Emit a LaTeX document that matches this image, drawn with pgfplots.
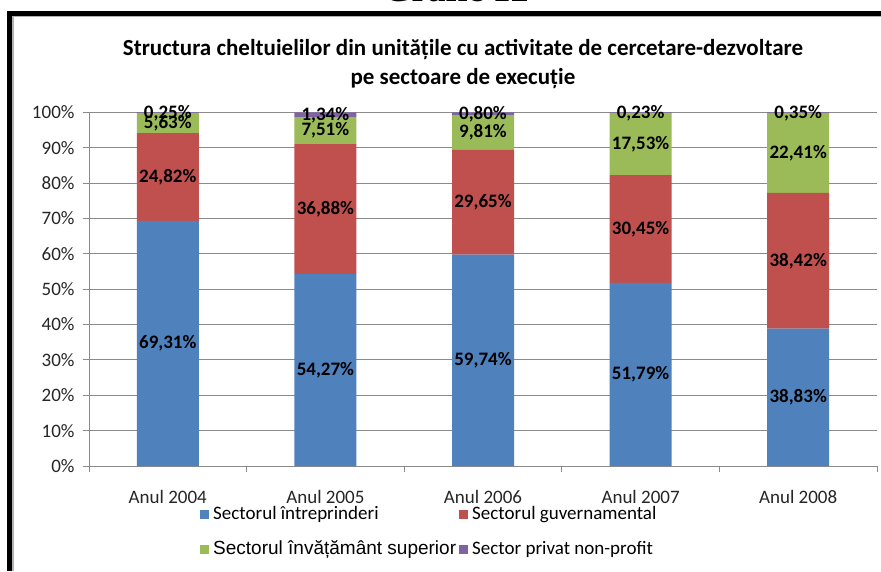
\documentclass[border=0pt]{standalone}
\usepackage{pgfplots}
\pgfplotsset{compat=1.18}
\usepackage{fontspec}
\setmainfont{Carlito}
\newfontfamily\arialf{Liberation Sans}
\newfontfamily\timesf{Liberation Serif}
\definecolor{cblue}{HTML}{4F81BD}
\definecolor{cred}{HTML}{C0504D}
\definecolor{cgreen}{HTML}{9BBB59}
\definecolor{cpurple}{HTML}{8064A2}
\definecolor{gridc}{HTML}{8A8A8A}

\pgfplotstableread{
x v
0 69.31
1 54.27
2 59.74
3 51.79
4 38.83
}\tabA
\pgfplotstableread{
x v
0 24.82
1 36.88
2 29.65
3 30.45
4 38.42
}\tabB
\pgfplotstableread{
x v
0 5.63
1 7.51
2 9.81
3 17.53
4 22.41
}\tabC
\pgfplotstableread{
x v
0 0.25
1 1.34
2 0.80
3 0.23
4 0.35
}\tabD

\begin{document}
\begin{tikzpicture}[x=1pt,y=1pt]
\path[use as bounding box, clip] (0pt,0pt) rectangle (881pt,-571pt);
\fill[white] (0pt,0pt) rectangle (881pt,-571pt);
\node[anchor=base, font=\timesf\bfseries\fontsize{36}{40}\selectfont, inner sep=0pt] at (456pt,-1.5pt) {Grafic 12};
\fill[gray!60] (12pt,-15pt) rectangle (881pt,-16.5pt);
\fill[gray!60] (12pt,-15pt) rectangle (13.5pt,-571pt);
\fill[black] (7pt,-11pt) rectangle (881pt,-15.5pt);
\fill[black] (7pt,-11pt) rectangle (12pt,-571pt);
\node[align=center, font=\bfseries\fontsize{23}{29}\selectfont, inner sep=0pt] at (463pt,-64pt)
  {Structura cheltuielilor din unitățile cu activitate de cercetare-dezvoltare\\pe sectoare de execuție};
\begin{axis}[
  at={(89pt,-466pt)}, anchor=south west,
  scale only axis, width=788pt, height=353.7pt,
  ybar stacked, bar width=62pt,
  xmin=-0.5, xmax=4.5, ymin=0, ymax=100.02,
  axis x line*=bottom, axis y line*=left,
  axis line style={gridc, line width=0.9pt},
  ytick={0,10,...,100},
  yticklabel={\pgfmathprintnumber{\tick}\%},
  ymajorgrids, grid style={gridc, line width=1pt},
  xtick={0,1,2,3,4},
  xticklabels={Anul 2004,Anul 2005,Anul 2006,Anul 2007,Anul 2008},
  minor xtick={-0.5,0.5,...,4.5},
  tick align=outside,
  major tick length=6pt, minor tick length=6pt,
  x tick style={draw=none},
  minor x tick style={draw=gridc, line width=0.9pt},
  y tick style={gridc, line width=0.9pt},
  xminorgrids=false,
  tick label style={font=\fontsize{19}{22}\selectfont, text=black!85},
  xticklabel style={yshift=-15pt},
  yticklabel style={xshift=-5pt},
  /pgf/number format/assume math mode=true,
  every axis plot/.append style={draw=none},
  nodes near coords={\pgfmathprintnumber[fixed,fixed zerofill,precision=2,use comma]{\pgfplotspointmeta}\%},
  point meta=explicit,
  nodes near coords align=center,
  every node near coord/.append style={font=\bfseries\fontsize{19}{22}\selectfont, text=black, anchor=center, inner sep=0pt},
  legend style={at={(0.1409,-0.113)}, anchor=north west, draw=none, fill=none,
     inner sep=0pt, row sep=18pt,
     font=\fontsize{19}{22}\selectfont,
     nodes={inner sep=0pt, text height=13pt, text depth=4pt},
     /tikz/every odd column/.append style={column sep=4pt},
     /tikz/every even column/.append style={column sep=6pt}},
  legend columns=2, legend cell align=left,
  legend image code/.code={\fill[#1,draw=none] (0pt,-4.5pt) rectangle (9pt,4.5pt);},
]
\addplot[fill=cblue] table[x=x,y=v,meta=v] {\tabA};
\addlegendentry{\makebox[240pt][l]{Sectorul întreprinderi}}
\addplot[fill=cred] table[x=x,y=v,meta=v] {\tabB};
\addlegendentry{Sectorul guvernamental}
\addplot[fill=cgreen] table[x=x,y=v,meta=v] {\tabC};
\addlegendentry{\makebox[240pt][l]{\arialf Sectorul învățământ superior}}
\addplot[fill=cpurple] table[x=x,y=v,meta=v] {\tabD};
\addlegendentry{Sector privat non-profit}
\end{axis}
\end{tikzpicture}
\end{document}
